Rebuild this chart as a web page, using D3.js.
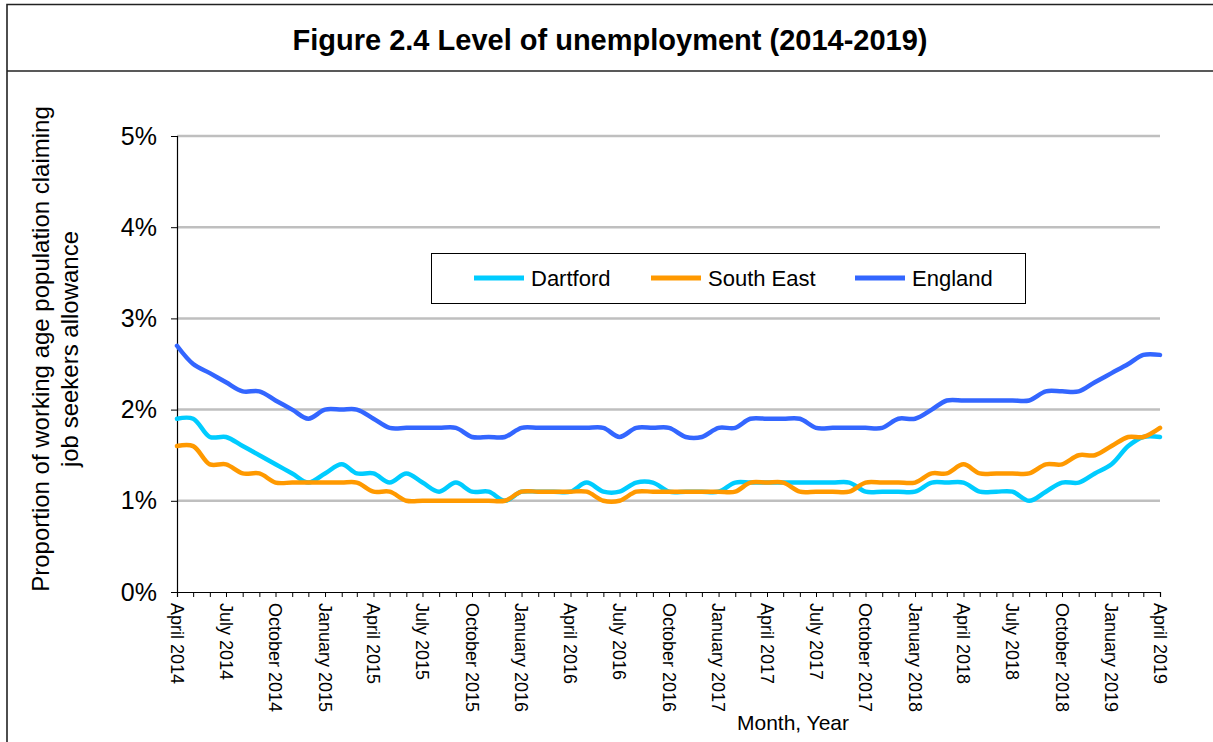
<!DOCTYPE html>
<html>
<head>
<meta charset="utf-8">
<script src="https://cdn.jsdelivr.net/npm/d3@7"></script>
<style>
  html, body { margin: 0; padding: 0; background: #fff; }
  svg { display: block; font-family: "Liberation Sans", Arial, sans-serif; }
</style>
</head>
<body>
<svg id="chart" width="1213" height="742"></svg>
<script>
// Claimant rate (% of working age population), monthly April 2014 – April 2019
const months = d3.range(61).map(i => new Date(2014, 3 + i, 1));

const dartford = [
  1.9, 1.9, 1.7, 1.7, 1.6, 1.5, 1.4, 1.3, 1.2, 1.3, 1.4, 1.3, 1.3,
  1.2, 1.3, 1.2, 1.1, 1.2, 1.1, 1.1, 1.0, 1.1, 1.1, 1.1, 1.1,
  1.2, 1.1, 1.1, 1.2, 1.2, 1.1, 1.1, 1.1, 1.1, 1.2, 1.2,
  1.2, 1.2, 1.2, 1.2, 1.2, 1.2, 1.1, 1.1, 1.1, 1.1, 1.2, 1.2,
  1.2, 1.1, 1.1, 1.1, 1.0, 1.1, 1.2, 1.2, 1.3, 1.4, 1.6, 1.7, 1.7
];
const southEast = [
  1.6, 1.6, 1.4, 1.4, 1.3, 1.3, 1.2, 1.2, 1.2, 1.2, 1.2, 1.2, 1.1,
  1.1, 1.0, 1.0, 1.0, 1.0, 1.0, 1.0, 1.0, 1.1, 1.1, 1.1, 1.1,
  1.1, 1.0, 1.0, 1.1, 1.1, 1.1, 1.1, 1.1, 1.1, 1.1, 1.2,
  1.2, 1.2, 1.1, 1.1, 1.1, 1.1, 1.2, 1.2, 1.2, 1.2, 1.3, 1.3,
  1.4, 1.3, 1.3, 1.3, 1.3, 1.4, 1.4, 1.5, 1.5, 1.6, 1.7, 1.7, 1.8
];
const england = [
  2.7, 2.5, 2.4, 2.3, 2.2, 2.2, 2.1, 2.0, 1.9, 2.0, 2.0, 2.0, 1.9,
  1.8, 1.8, 1.8, 1.8, 1.8, 1.7, 1.7, 1.7, 1.8, 1.8, 1.8, 1.8,
  1.8, 1.8, 1.7, 1.8, 1.8, 1.8, 1.7, 1.7, 1.8, 1.8, 1.9,
  1.9, 1.9, 1.9, 1.8, 1.8, 1.8, 1.8, 1.8, 1.9, 1.9, 2.0, 2.1,
  2.1, 2.1, 2.1, 2.1, 2.1, 2.2, 2.2, 2.2, 2.3, 2.4, 2.5, 2.6, 2.6
];

const seriesNames = ["Dartford", "South East", "England"];
const seriesColors = ["#00CCFF", "#FF9900", "#3366FF"];
const yTicks = [0, 1, 2, 3, 4, 5];

const title = "Figure 2.4 Level of unemployment (2014-2019)";
const yLabelLines = ["Proportion of working age population claiming", "job seekers allowance"];
const xLabel = "Month, Year";

const svg = d3.select("#chart");

// Frame and title band
svg.append("path")
  .attr("d", "M7,742 V4.5 H1213")
  .attr("fill", "none").attr("stroke", "#222").attr("stroke-width", 1.6);
svg.append("line")
  .attr("x1", 7).attr("x2", 1213).attr("y1", 71).attr("y2", 71)
  .attr("stroke", "#222").attr("stroke-width", 1.6);
svg.append("text")
  .attr("x", 610).attr("y", 50)
  .attr("text-anchor", "middle")
  .attr("font-weight", "bold").attr("font-size", 29)
  .text(title);

const x = d3.scaleTime()
  .domain([months[0], months[months.length - 1]])
  .range([177, 1160]);
const y = d3.scaleLinear().domain([0, 5]).range([592, 136]);

// Horizontal gridlines
svg.append("g").selectAll("line")
  .data(yTicks.filter(d => d > 0))
  .join("line")
  .attr("x1", 177).attr("x2", 1160)
  .attr("y1", d => y(d)).attr("y2", d => y(d))
  .attr("stroke", "#bfbfbf").attr("stroke-width", 2.5);

// Y axis
const yAxis = svg.append("g")
  .attr("transform", "translate(177,0)")
  .call(d3.axisLeft(y).tickValues(yTicks).tickFormat(d => d + "%").tickSize(6).tickPadding(14));
yAxis.select(".domain").attr("stroke", "#000").attr("stroke-width", 1.2);
yAxis.selectAll(".tick line").attr("stroke", "#000");
yAxis.selectAll(".tick text")
  .attr("font-size", 25).attr("fill", "#000")
  .attr("font-family", "Liberation Sans, Arial, sans-serif");

// X axis: monthly ticks, quarterly labels
const xAxis = svg.append("g")
  .attr("transform", "translate(0,592)")
  .call(d3.axisBottom(x).tickValues(months).tickSize(5).tickFormat(""));
xAxis.select(".domain").attr("stroke", "#000").attr("stroke-width", 1.2);
xAxis.selectAll(".tick line").attr("stroke", "#000");

const fmt = d3.timeFormat("%B %Y");
svg.append("g").selectAll("text")
  .data(months.filter((d, i) => i % 3 === 0))
  .join("text")
  .attr("transform", d => `translate(${x(d)},603) rotate(90)`)
  .attr("dy", "0.35em")
  .attr("font-size", 18)
  .text(d => fmt(d));

svg.append("text")
  .attr("x", 793).attr("y", 730)
  .attr("text-anchor", "middle")
  .attr("font-size", 21)
  .text(xLabel);

// Y axis title
const yl = svg.append("text")
  .attr("transform", "translate(49,349) rotate(-90)")
  .attr("text-anchor", "middle")
  .attr("font-size", 24);
yl.selectAll("tspan").data(yLabelLines).join("tspan")
  .attr("x", 0).attr("dy", (d, i) => i === 0 ? 0 : 28.5)
  .text(d => d);

// Series lines
const line = d3.line()
  .x((d, i) => x(months[i]))
  .y(d => y(d))
  .curve(d3.curveCatmullRom.alpha(0.5));

const allSeries = [dartford, southEast, england];
svg.append("g").selectAll("path")
  .data(allSeries)
  .join("path")
  .attr("d", d => line(d))
  .attr("fill", "none")
  .attr("stroke", (d, i) => seriesColors[i])
  .attr("stroke-width", 4.5)
  .attr("stroke-linejoin", "round")
  .attr("stroke-linecap", "round");

// Legend
const lg = svg.append("g");
lg.append("rect")
  .attr("x", 431.5).attr("y", 253.5).attr("width", 594).attr("height", 50)
  .attr("fill", "#fff").attr("stroke", "#000").attr("stroke-width", 1);
const legendX = [474, 651, 855];
const items = lg.selectAll("g.item").data(seriesNames).join("g")
  .attr("class", "item")
  .attr("transform", (d, i) => `translate(${legendX[i]},278)`);
items.append("line")
  .attr("x1", 0).attr("x2", 50)
  .attr("stroke", (d, i) => seriesColors[i]).attr("stroke-width", 5);
items.append("text")
  .attr("x", 57).attr("dy", "0.35em")
  .attr("font-size", 22)
  .text(d => d);
</script>
</body>
</html>
